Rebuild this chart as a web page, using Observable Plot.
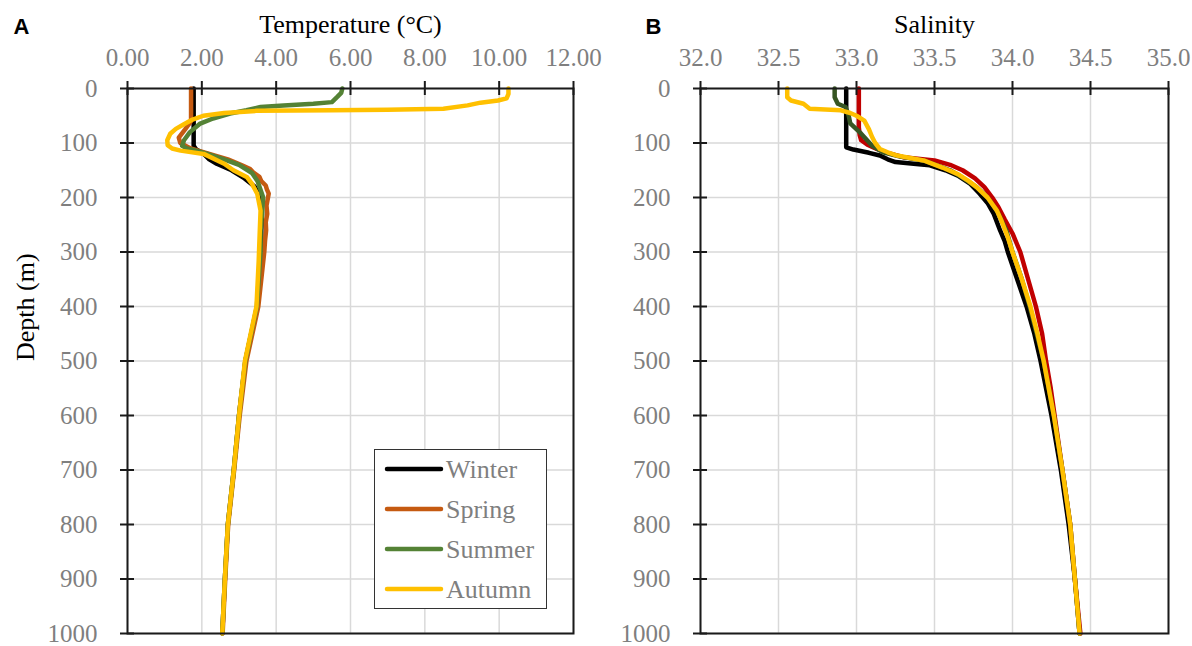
<!DOCTYPE html>
<html><head><meta charset="utf-8">
<script src="https://cdn.jsdelivr.net/npm/d3@7"></script>
<script src="https://cdn.jsdelivr.net/npm/@observablehq/plot@0.6"></script>
<style>
body{margin:0;background:#fff;}
#wrap{position:relative;width:1192px;height:646px;overflow:hidden;background:#fff;}
.panel{position:absolute;top:0;}
#legend{position:absolute;left:374px;top:449px;width:173px;height:160px;border:1.5px solid #333;background:#fff;box-sizing:border-box;}
</style></head><body><div id="wrap"><div id="pb" class="panel" style="left:596px"></div><div id="pa" class="panel" style="left:0"></div><div id="legend"></div></div>
<script>
const seasons = ["Winter", "Spring", "Summer", "Autumn"];
const tempColors = ["#000000", "#C55A11", "#548235", "#FFC000"];
const salColors = ["#000000", "#C00000", "#375623", "#FFC000"];
const tempTicks = [0, 2, 4, 6, 8, 10, 12];
const salTicks = [32, 32.5, 33, 33.5, 34, 34.5, 35];
const depthTicks = [0, 100, 200, 300, 400, 500, 600, 700, 800, 900, 1000];

// Panel A: temperature profiles
const winterTempDepth = [0, 50, 90, 105, 112, 120, 130, 138, 150, 165, 180, 200, 230, 260, 300, 350, 400, 500, 600, 700, 800, 900, 1000];
const winterTemp =      [1.78, 1.78, 1.78, 1.78, 1.85, 2.05, 2.2, 2.4, 2.8, 3.15, 3.42, 3.6, 3.62, 3.6, 3.6, 3.55, 3.49, 3.17, 3.0, 2.86, 2.7, 2.62, 2.55];

const springTempDepth = [0, 60, 75, 90, 100, 110, 120, 130, 140, 148, 155, 162, 170, 178, 185, 193, 200, 215, 230, 245, 260, 280, 300, 350, 400, 500, 600, 700, 800, 900, 1000];
const springTemp =      [1.71, 1.71, 1.55, 1.38, 1.42, 1.7, 2.2, 2.7, 3.05, 3.3, 3.4, 3.55, 3.6, 3.72, 3.75, 3.8, 3.78, 3.74, 3.76, 3.72, 3.73, 3.7, 3.68, 3.6, 3.52, 3.2, 3.02, 2.87, 2.71, 2.63, 2.56];

const summerTempDepth = [0, 8, 15, 25, 28, 31, 34, 40, 46, 55, 65, 80, 95, 105, 110, 115, 120, 130, 140, 155, 170, 190, 200, 230, 260, 300, 350, 400, 500, 600, 700, 800, 900, 1000];
const summerTemp =      [5.78, 5.75, 5.65, 5.5, 5.0, 4.2, 3.58, 3.2, 2.76, 2.3, 1.94, 1.68, 1.52, 1.47, 1.6, 1.9, 2.15, 2.6, 3.0, 3.35, 3.5, 3.6, 3.65, 3.62, 3.58, 3.58, 3.53, 3.48, 3.17, 3.0, 2.86, 2.7, 2.62, 2.55];

const autumnTempDepth = [0, 10, 18, 22, 26, 31, 37, 39, 40, 41, 45, 50, 57, 65, 74, 83, 95, 104, 110, 114, 120, 138, 150, 163, 175, 193, 224, 260, 316, 400, 500, 600, 700, 800, 900, 1000];
const autumnTemp =      [10.25, 10.25, 10.2, 9.97, 9.5, 9.15, 8.5, 7.0, 5.5, 3.48, 2.6, 2.04, 1.75, 1.53, 1.3, 1.15, 1.07, 1.08, 1.2, 1.43, 2.05, 2.6, 2.85, 3.22, 3.35, 3.49, 3.58, 3.56, 3.53, 3.47, 3.16, 3.0, 2.86, 2.7, 2.62, 2.55];

// Panel B: salinity profiles
const winterSalDepth = [0, 60, 108, 112, 118, 123, 130, 135, 139, 141, 150, 160, 175, 193, 210, 230, 260, 280, 300, 350, 400, 450, 500, 600, 700, 800, 900, 1000];
const winterSal =      [32.934, 32.934, 32.934, 32.98, 33.08, 33.15, 33.2, 33.25, 33.4, 33.47, 33.57, 33.65, 33.73, 33.79, 33.84, 33.88, 33.92, 33.95, 33.97, 34.03, 34.09, 34.14, 34.18, 34.25, 34.31, 34.36, 34.4, 34.43];

const springSalDepth = [0, 71, 85, 95, 103, 111, 118, 126, 132, 140, 150, 165, 181, 200, 218, 240, 266, 300, 350, 400, 450, 500, 550, 600, 700, 800, 900, 1000];
const springSal =      [33.015, 33.015, 33.02, 33.03, 33.07, 33.13, 33.2, 33.3, 33.5, 33.6, 33.68, 33.76, 33.82, 33.87, 33.91, 33.95, 34.0, 34.05, 34.1, 34.15, 34.19, 34.215, 34.245, 34.27, 34.32, 34.37, 34.4, 34.435];

const summerSalDepth = [0, 16, 28, 34, 50, 64, 83, 105, 117, 125, 132, 150, 160, 181, 200, 224, 260, 300, 350, 400, 500, 600, 700, 800, 900, 1000];
const summerSal =      [32.86, 32.86, 32.88, 32.93, 32.95, 32.96, 33.03, 33.1, 33.17, 33.28, 33.43, 33.6, 33.66, 33.77, 33.84, 33.9, 33.96, 34.0, 34.06, 34.11, 34.2, 34.265, 34.32, 34.37, 34.4, 34.43];

const autumnSalDepth = [0, 16, 22, 28, 37, 40, 45, 50, 59, 75, 89, 100, 111, 117, 123, 132, 145, 157, 170, 181, 200, 224, 243, 273, 300, 350, 400, 450, 500, 600, 700, 800, 900, 1000];
const autumnSal =      [32.556, 32.556, 32.58, 32.66, 32.7, 32.9, 32.96, 33.0, 33.05, 33.08, 33.1, 33.12, 33.15, 33.2, 33.26, 33.43, 33.55, 33.65, 33.72, 33.77, 33.84, 33.9, 33.93, 33.97, 34.0, 34.06, 34.115, 34.16, 34.2, 34.265, 34.32, 34.37, 34.4, 34.43];

const rows = (season, depths, values) => depths.map((d, i) => ({season, depth: d, value: values[i]}));
const tempRows = [
  ...rows("Winter", winterTempDepth, winterTemp),
  ...rows("Spring", springTempDepth, springTemp),
  ...rows("Summer", summerTempDepth, summerTemp),
  ...rows("Autumn", autumnTempDepth, autumnTemp)
];
const salRows = [
  ...rows("Winter", winterSalDepth, winterSal),
  ...rows("Spring", springSalDepth, springSal),
  ...rows("Summer", summerSalDepth, summerSal),
  ...rows("Autumn", autumnSalDepth, autumnSal)
];

const W = 596, H = 646, MT = 88, MB = 13;
const serif = "'Liberation Serif', 'Times New Roman', serif";
const axisInk = "#1a1a1a";
const tickPx = 7;

function panel({data, colors, xDomain, xTicks, fmt, ml, mr, title, letter, letterX, ylabel}) {
  const plotH = H - MT - MB;
  const pxPerX = (W - ml - mr) / (xDomain[1] - xDomain[0]);
  const hx = tickPx / pxPerX;
  const hy = tickPx / (plotH / 1000);
  const marks = [
    Plot.gridX(xTicks, {stroke: "#d9d9d9", strokeOpacity: 1, strokeWidth: 1.5}),
    Plot.gridY(depthTicks, {stroke: "#d9d9d9", strokeOpacity: 1, strokeWidth: 1.5}),
    Plot.line(data, {x: "value", y: "depth", z: "season", stroke: "season", strokeWidth: 4.5, strokeLinejoin: "round", strokeLinecap: "round"}),
    Plot.frame({stroke: axisInk, strokeWidth: 2}),
    Plot.ruleX(xTicks, {x: d => d, y1: -hy, y2: hy, stroke: axisInk, strokeWidth: 2}),
    Plot.ruleY(depthTicks, {y: d => d, x1: xDomain[0] - hx, x2: xDomain[0] + hx, stroke: axisInk, strokeWidth: 2}),
    Plot.axisX(xTicks, {anchor: "top", tickSize: 0, tickPadding: 23, tickFormat: fmt, fill: "#7f7f7f", fontSize: 25, label: null}),
    Plot.axisY(depthTicks, {anchor: "left", tickSize: 0, tickPadding: 30, tickFormat: d => String(d), fill: "#7f7f7f", fontSize: 25, label: null}),
    Plot.text([title], {frameAnchor: "top", dy: -56, lineAnchor: "bottom", fontSize: 26, fill: "#000"}),
    Plot.text([letter], {frameAnchor: "top-left", dx: letterX - ml, dy: -55, textAnchor: "start", lineAnchor: "bottom", fontSize: 22, fontWeight: "bold", fontFamily: "'Liberation Sans', Arial, sans-serif", fill: "#000"})
  ];
  if (ylabel) marks.push(Plot.text([ylabel], {frameAnchor: "left", dx: 25 - ml, rotate: -90, lineAnchor: "middle", fontSize: 26, fill: "#000"}));
  return Plot.plot({
    width: W, height: H, marginLeft: ml, marginRight: mr, marginTop: MT, marginBottom: MB,
    x: {domain: xDomain, axis: null},
    y: {domain: [0, 1000], reverse: true, axis: null},
    color: {domain: seasons, range: colors},
    style: {fontFamily: serif, background: "transparent", overflow: "visible"},
    marks
  });
}

document.getElementById("pa").append(panel({
  data: tempRows, colors: tempColors, xDomain: [0, 12], xTicks: tempTicks,
  fmt: d => d.toFixed(2), ml: 127, mr: 23, title: "Temperature (°C)", letter: "A", letterX: 13, ylabel: "Depth (m)"
}));
document.getElementById("pb").append(panel({
  data: salRows, colors: salColors, xDomain: [32, 35], xTicks: salTicks,
  fmt: d => d.toFixed(1), ml: 104, mr: 24, title: "Salinity", letter: "B", letterX: 49, ylabel: null
}));

// Legend (panel A)
const leg = d3.select("#legend").append("svg").attr("width", 170).attr("height", 157)
  .style("font-family", serif).style("font-size", "26px");
seasons.forEach((s, i) => {
  const y = 19 + i * 40;
  leg.append("line").attr("x1", 12).attr("x2", 66).attr("y1", y).attr("y2", y)
    .attr("stroke", tempColors[i]).attr("stroke-width", 4.5).attr("stroke-linecap", "round");
  leg.append("text").attr("x", 71).attr("y", y).attr("dy", "0.34em").attr("fill", "#7f7f7f").text(s);
});
</script></body></html>
